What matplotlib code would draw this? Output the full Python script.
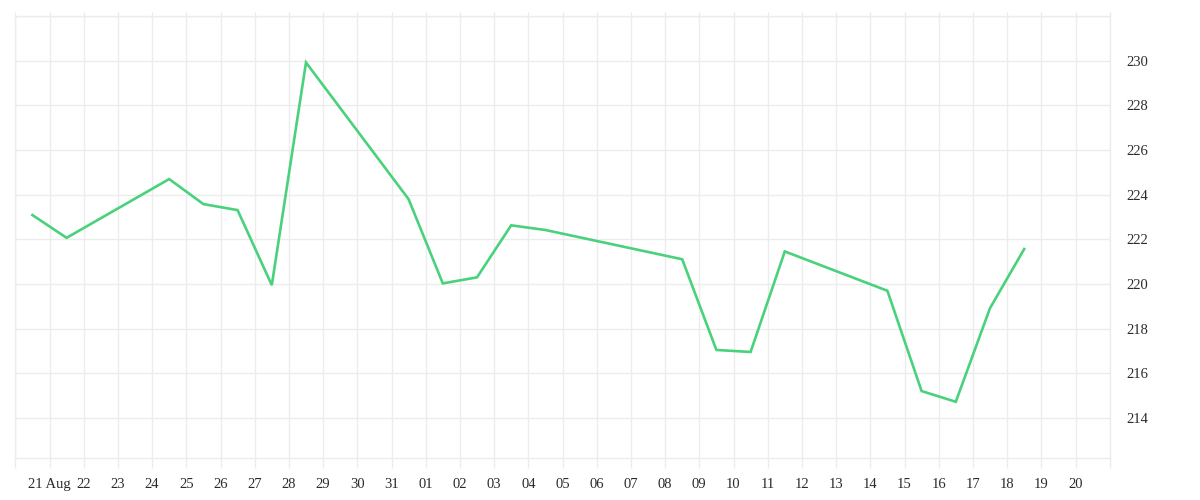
import datetime as dt
import matplotlib
matplotlib.use('Agg')
import matplotlib.pyplot as plt
import matplotlib.dates as mdates

# daily values (sampled at midday)
dates = ['2020-08-20', '2020-08-21', '2020-08-24', '2020-08-25', '2020-08-26',
         '2020-08-27', '2020-08-28', '2020-08-31', '2020-09-01', '2020-09-02',
         '2020-09-03', '2020-09-04', '2020-09-08', '2020-09-09', '2020-09-10',
         '2020-09-11', '2020-09-14', '2020-09-15', '2020-09-16', '2020-09-17',
         '2020-09-18']
values = [223.09, 222.07, 224.70, 223.58, 223.31,
          219.95, 229.92, 223.80, 220.03, 220.30,
          222.63, 222.42, 221.11, 217.05, 216.96,
          221.46, 219.70, 215.21, 214.73, 218.92,
          221.57]
yticks = [214, 216, 218, 220, 222, 224, 226, 228, 230]

x = [dt.datetime.strptime(d, '%Y-%m-%d') + dt.timedelta(hours=12) for d in dates]

grid_col = '#ececec'
txt_col = '#2b2b2b'
plt.rcParams['font.family'] = ['Liberation Serif', 'DejaVu Serif']

fig = plt.figure(figsize=(12, 5), dpi=100)
ax = fig.add_axes([15.3/1200, 1-458.3/500, (1109.7-15.3)/1200, (458.3-16)/500])

ax.plot(x, values, color='#4ad17c', lw=1.9, solid_joinstyle='miter')

start = dt.datetime(2020, 8, 20)
end = dt.datetime(2020, 9, 21)
ax.set_xlim(start, end)
ax.set_ylim(212.2, 232)

days = [start + dt.timedelta(days=i) for i in range((end - start).days + 1)]
labels = []
for i, d in enumerate(days):
    if i == 0 or i == len(days) - 1:
        labels.append('')
    elif i == 1:
        labels.append(d.strftime('%d %b'))
    else:
        labels.append(d.strftime('%d'))
ax.set_xticks(days)
ax.set_xticklabels(labels)
ax.tick_params(axis='x', which='both', direction='out', length=7.2, width=1,
               color=grid_col, pad=7, labelsize=10.5, labelcolor=txt_col,
               top=True, bottom=True)
for t in ax.xaxis.get_major_ticks():
    t.tick2line.set_markersize(3)

ax.yaxis.tick_right()
ax.set_yticks(yticks)
ax.set_yticks([232], minor=True)
ax.tick_params(axis='y', which='both', length=0, pad=12, labelsize=10.5,
               labelcolor=txt_col)

ax.grid(True, which='both', color=grid_col, lw=1)
ax.set_axisbelow(True)
for s in ax.spines.values():
    s.set_color(grid_col)
    s.set_linewidth(1)

fig.savefig('out.png', dpi=100, facecolor='white')
